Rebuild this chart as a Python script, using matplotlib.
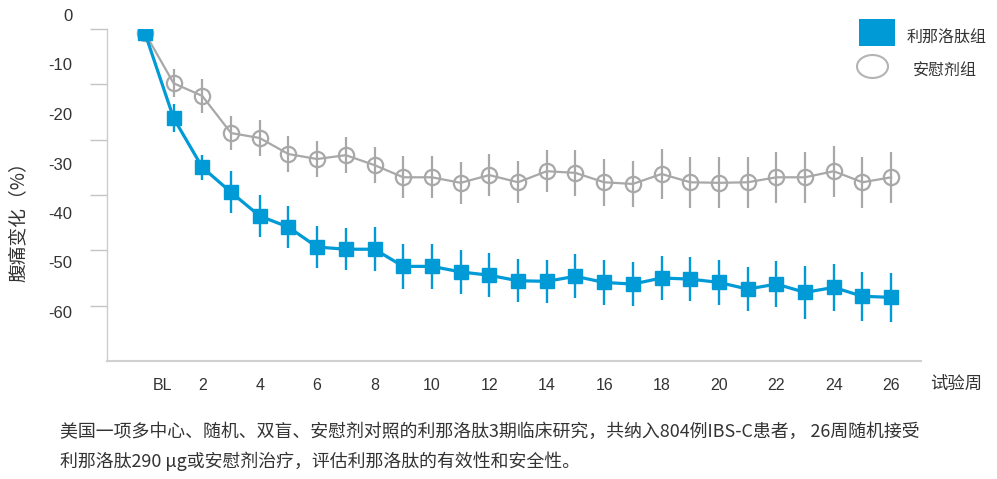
import matplotlib
matplotlib.use("Agg")
import matplotlib.pyplot as plt
from matplotlib.patches import Rectangle, Ellipse

# ---- data ----
weeks = list(range(0, 27))
lin_mean = [-0.7, -16.1, -25.0, -29.5, -33.8, -35.8, -39.4, -39.8, -39.8, -42.9, -42.9,
            -43.9, -44.5, -45.5, -45.6, -44.7, -45.8, -46.1, -45.0, -45.2, -45.8,
            -47.0, -46.1, -47.6, -46.7, -48.3, -48.5]
lin_err = [0, 2.6, 2.3, 3.8, 3.8, 3.8, 3.8, 3.8, 4.0, 4.0, 4.0, 4.0, 4.0, 3.9, 3.9,
           4.0, 4.0, 4.0, 4.0, 4.0, 4.0, 4.0, 4.2, 4.8, 4.2, 4.4, 4.4]
pla_mean = [-0.7, -9.8, -12.1, -18.8, -19.7, -22.6, -23.5, -22.8, -24.6, -26.8, -26.8,
            -27.8, -26.4, -27.7, -25.7, -26.0, -27.7, -28.0, -26.2, -27.7, -27.8,
            -27.7, -26.8, -26.8, -25.7, -27.7, -26.8]
pla_err = [0, 2.5, 3.0, 3.0, 3.3, 3.3, 3.3, 3.3, 3.3, 3.8, 3.8, 3.8, 3.8, 3.8, 3.8,
           4.2, 4.2, 4.2, 4.6, 4.6, 4.6, 4.6, 4.6, 4.6, 4.6, 4.6, 4.6]
xtick_pos = [0.6, 2, 4, 6, 8, 10, 12, 14, 16, 18, 20, 22, 24, 26]
xtick_labels = ["BL", "2", "4", "6", "8", "10", "12", "14", "16", "18", "20", "22", "24", "26"]
ytick_vals = [0, -10, -20, -30, -40, -50, -60]
ytick_labels = ["0", "-10", "-20", "-30", "-40", "-50", "-60"]
series_names = ["利那洛肽组", "安慰剂组"]
caption1 = "美国一项多中心、随机、双盲、安慰剂对照的利那洛肽3期临床研究，共纳入804例IBS-C患者， 26周随机接受"
caption2 = "利那洛肽290 μg或安慰剂治疗，评估利那洛肽的有效性和安全性。"

BLUE = "#009ad6"
GRAY = "#a8a8a8"
TXT = "#333333"
CJK = ["Noto Sans CJK SC", "DejaVu Sans"]
LAT = ["Liberation Sans", "DejaVu Sans"]

W, H = 997, 479
fig = plt.figure(figsize=(W / 100, H / 100), dpi=100)

def fx(px):
    return px / W

def fy(py):
    return 1 - py / H

# main axes
ax = fig.add_axes([fx(107), fy(361), fx(921) - fx(107), fy(29) - fy(361)])
ax.set_xlim(-1.32, 27.04)
ax.set_ylim(-60, 0)
for s in ["top", "right"]:
    ax.spines[s].set_visible(False)
ax.spines["left"].set_color("#cccccc")
ax.spines["left"].set_linewidth(1.0)
ax.spines["bottom"].set_color("#d0d0d0")
ax.spines["bottom"].set_linewidth(1.5)
ax.set_yticks([0, -10, -20, -30, -40, -50])
ax.set_yticklabels([])
ax.tick_params(axis="y", length=12, width=1, color="#c4c4c4", direction="out")
ax.set_xticks(xtick_pos)
ax.set_xticklabels(xtick_labels, fontfamily=LAT, fontsize=11.5, color=TXT)
ax.tick_params(axis="x", length=0, pad=12)
ax.patch.set_alpha(0)

ax.errorbar(weeks, pla_mean, yerr=pla_err, color=GRAY, lw=1.6, elinewidth=1.6,
            capsize=0, marker="o", markersize=11, markerfacecolor="none",
            markeredgecolor=GRAY, markeredgewidth=1.6, zorder=2)
ax.errorbar(weeks, lin_mean, yerr=lin_err, color=BLUE, lw=2.3, elinewidth=1.7,
            capsize=0, marker="s", markersize=10.5, markerfacecolor=BLUE,
            markeredgecolor=BLUE, zorder=3)

# y labels axis (labels are offset from tick marks in the reference)
lax = fig.add_axes([fx(107), fy(312), fx(921) - fx(107), fy(15) - fy(312)])
lax.set_ylim(-60, 0)
lax.set_yticks(ytick_vals)
lax.set_yticklabels(ytick_labels, fontfamily=LAT, fontsize=12, color=TXT)
lax.tick_params(axis="y", length=0, pad=25)
lax.set_xticks([])
for s in lax.spines.values():
    s.set_visible(False)
lax.patch.set_visible(False)

# axis titles
fig.text(fx(18), fy(217), "腹痛变化（%）", rotation=90, ha="center", va="center",
         fontfamily=CJK, fontsize=13.5, color=TXT)
fig.text(fx(930), fy(384), "试验周", ha="left", va="center",
         fontfamily=CJK, fontsize=12.5, color=TXT)

# legend
fig.patches.append(Rectangle((fx(859), fy(46)), fx(36), 27 / H, transform=fig.transFigure,
                             facecolor=BLUE, edgecolor="none"))
fig.patches.append(Ellipse((fx(872.5), fy(66.5)), fx(31), 23 / H, transform=fig.transFigure,
                           facecolor="none", edgecolor="#b4b4b4", lw=1.5))
fig.text(fx(907), fy(38), series_names[0], ha="left", va="center",
         fontfamily=CJK, fontsize=11.5, color=TXT)
fig.text(fx(913), fy(71), series_names[1], ha="left", va="center",
         fontfamily=CJK, fontsize=11.5, color=TXT)

# caption
fig.text(fx(60), fy(432), caption1, ha="left", va="center",
         fontfamily=CJK, fontsize=12.9, color=TXT)
fig.text(fx(60), fy(461), caption2, ha="left", va="center",
         fontfamily=CJK, fontsize=12.9, color=TXT)

fig.savefig("out.png", dpi=100, facecolor="white")
